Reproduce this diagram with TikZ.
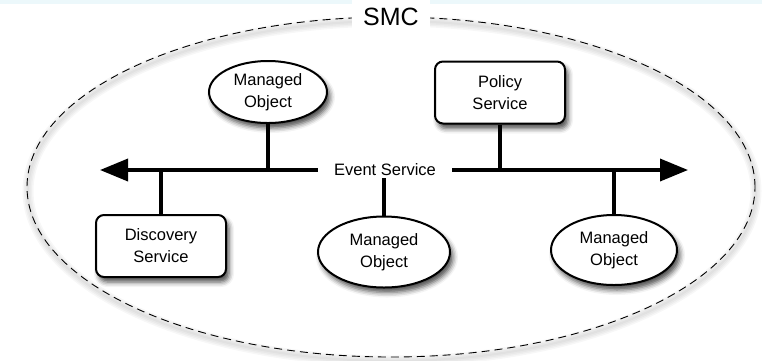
\documentclass[tikz,border=0pt]{standalone}
\usepackage{fontspec}
\setmainfont{Liberation Sans}
\usetikzlibrary{shapes.geometric,arrows.meta,shadows.blur}
\definecolor{band}{RGB}{236,248,251}
\begin{document}
\begin{tikzpicture}[x=1pt,y=-1pt,
  lbl/.style={font=\fontsize{16.5}{22}\selectfont, align=center},
  shad/.style={blur shadow={shadow xshift=3pt, shadow yshift=-5pt, shadow blur radius=5pt, shadow opacity=70}},
  obj/.style={lbl, ellipse, draw, line width=2pt, fill=white, inner sep=0pt, shad},
  svc/.style={lbl, rectangle, rounded corners=8pt, draw, line width=2pt, fill=white, inner sep=0pt, minimum width=130pt, minimum height=62pt, shad},
  bus/.style={line width=3.6pt},
  link/.style={line width=3.6pt},
  tip/.style={-{Triangle[length=28pt,width=22pt]}}]
\useasboundingbox (0,0) rectangle (762,360);
\fill[band] (0,0) rectangle (762,3.5);
% faint shadow of the dashed boundary
\foreach \w in {2,5,8,11}
  \draw[line width=\w pt, black, opacity=0.03] (392,191) ellipse [x radius=364pt, y radius=170pt];
\node[ellipse, draw, line width=0.9pt, dash pattern=on 8pt off 5pt, minimum width=728pt, minimum height=340pt, inner sep=0pt] (smc) at (391,187) {};
\node[fill=white, font=\fontsize{25}{30}\selectfont, inner xsep=11pt, inner ysep=10pt] (smcl) at (smc.north) {SMC};

% bus
\node[lbl, inner xsep=16pt, inner ysep=2pt] (es) at (385,170) {Event Service};
\coordinate (lt) at (100,170);
\coordinate (rt) at (688,170);
\draw[bus, tip] (es.west) -- (lt);
\draw[bus, tip] (es.east) -- (rt);

% nodes
\node[obj, minimum width=118pt, minimum height=62pt] (mo1) at (268,92) {Managed\\Object};
\node[svc] (ps) at (500,92.5) {Policy\\Service};
\node[svc] (ds) at (161,246) {Discovery\\Service};
\node[obj, minimum width=132pt, minimum height=71pt] (mo2) at (384,252) {Managed\\Object};
\node[obj, minimum width=126pt, minimum height=70pt] (mo3) at (614,250) {Managed\\Object};

% connectors
\draw[link] (mo1.south) -- (mo1.south |- es.west);
\draw[link] (ps.south) -- (ps.south |- es.east);
\draw[link] (ds.north) -- (ds.north |- lt);
\draw[link] (mo2.north) -- (mo2.north |- es.south);
\draw[link] (mo3.north) -- (mo3.north |- rt);
\end{tikzpicture}
\end{document}
